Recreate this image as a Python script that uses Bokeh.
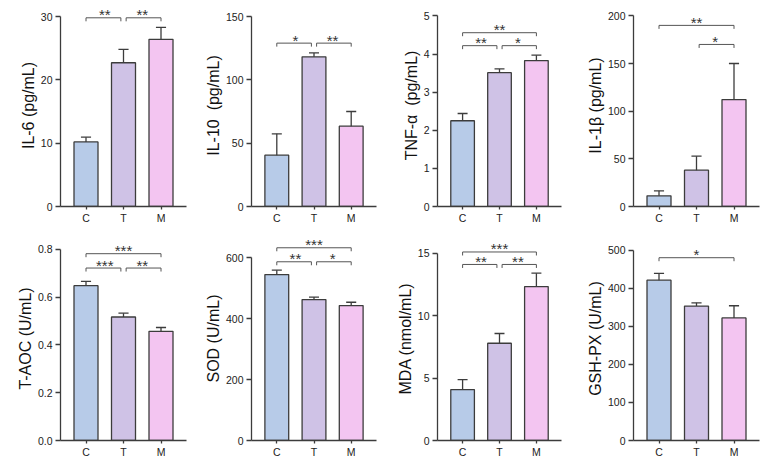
from bokeh.plotting import figure
from bokeh.layouts import gridplot
from bokeh.models import Range1d, FixedTicker, PrintfTickFormatter
from bokeh.core.properties import value
from bokeh.embed import file_html
from bokeh.resources import INLINE

# ---- data -------------------------------------------------------------
groups = ["C", "T", "M"]

il6_mean = [10.2, 22.7, 26.4]
il6_err = [0.75, 2.1, 1.9]

il10_mean = [40.5, 118.2, 63.4]
il10_err = [16.9, 3.1, 11.6]

tnfa_mean = [2.25, 3.51, 3.83]
tnfa_err = [0.19, 0.10, 0.14]

il1b_mean = [11.2, 38.1, 112.2]
il1b_err = [5.2, 14.7, 37.8]

taoc_mean = [0.648, 0.517, 0.457]
taoc_err = [0.018, 0.016, 0.016]

sod_mean = [545, 463, 443]
sod_err = [14.5, 8, 11]

mda_mean = [4.08, 7.79, 12.33]
mda_err = [0.8, 0.78, 1.07]

gshpx_mean = [421, 353, 322]
gshpx_err = [17.7, 8.6, 31.8]

# significance comparisons: (group a, group b, marker)
il6_sig = [(0, 1, "**"), (1, 2, "**")]
il10_sig = [(0, 1, "*"), (1, 2, "**")]
tnfa_sig = [(0, 2, "**"), (0, 1, "**"), (1, 2, "*")]
il1b_sig = [(0, 2, "**"), (1, 2, "*")]
taoc_sig = [(0, 2, "***"), (0, 1, "***"), (1, 2, "**")]
sod_sig = [(0, 2, "***"), (0, 1, "**"), (1, 2, "*")]
mda_sig = [(0, 2, "***"), (0, 1, "**"), (1, 2, "**")]
gshpx_sig = [(0, 2, "*")]

# ---- styling ----------------------------------------------------------
FONT = "Liberation Sans"
BAR_COLORS = ["#b7cbe8", "#cfc2e6", "#f3c5f1"]
EDGE = "#3c3c3c"
AXIS = "#3c3c3c"
BRACKET = "#555555"

# per-panel axis setup: label, y ticks, y range end, bracket heights
panels = [
    dict(label="IL-6 (pg/mL)", mean=il6_mean, err=il6_err, sig=il6_sig,
         ticks=[0, 10, 20, 30], yend=31.9, levels=[29.8, 29.8], fmt=None),
    dict(label="IL-10\u00a0 (pg/mL)", mean=il10_mean, err=il10_err, sig=il10_sig,
         ticks=[0, 50, 100, 150], yend=159.5, levels=[129, 129], fmt=None),
    dict(label="TNF-\u03b1\u00a0 (pg/mL)", mean=tnfa_mean, err=tnfa_err, sig=tnfa_sig,
         ticks=[0, 1, 2, 3, 4, 5], yend=5.30, levels=[4.56, 4.22, 4.22], fmt=None),
    dict(label="IL-1\u03b2 (pg/mL)", mean=il1b_mean, err=il1b_err, sig=il1b_sig,
         ticks=[0, 50, 100, 150, 200], yend=211.9, levels=[190, 170], fmt=None),
    dict(label="T-AOC (U/mL)", mean=taoc_mean, err=taoc_err, sig=taoc_sig,
         ticks=[0.0, 0.2, 0.4, 0.6, 0.8], yend=0.854, levels=[0.782, 0.722, 0.722], fmt="%.1f"),
    dict(label="SOD (U/mL)", mean=sod_mean, err=sod_err, sig=sod_sig,
         ticks=[0, 200, 400, 600], yend=670, levels=[633, 587, 587], fmt=None),
    dict(label="MDA (nmol/mL)", mean=mda_mean, err=mda_err, sig=mda_sig,
         ticks=[0, 5, 10, 15], yend=16.34, levels=[15.1, 14.1, 14.1], fmt=None),
    dict(label="GSH-PX (U/mL)", mean=gshpx_mean, err=gshpx_err, sig=gshpx_sig,
         ticks=[0, 100, 200, 300, 400, 500], yend=535.7, levels=[480], fmt=None),
]

widths = [191, 191, 191, 192]
lefts = [[60, 59, 55, 60], [60, 60, 53, 60]]
FRAME_W = 126
BAR_W = 0.64
CAP_HALF = 0.135


def make_panel(cfg, width, left, row):
    top_b, bot_b = 4, (26 if row == 0 else 24)
    height = 232
    frame_h = height - top_b - bot_b
    xs = list(range(len(groups)))
    p = figure(width=width, height=height, output_backend="svg",
               toolbar_location=None, x_range=Range1d(-0.68, 2.68),
               y_range=Range1d(0, cfg["yend"]),
               min_border_left=left, min_border_right=width - left - FRAME_W,
               min_border_top=top_b, min_border_bottom=bot_b)
    p.outline_line_color = None
    p.grid.visible = False
    p.background_fill_color = "white"
    p.border_fill_color = "white"

    # bars
    p.vbar(x=xs, top=cfg["mean"], bottom=0, width=BAR_W, fill_color=BAR_COLORS,
           line_color=EDGE, line_width=1.3)
    # upper error bars
    tops = [m + e for m, e in zip(cfg["mean"], cfg["err"])]
    p.segment(x0=xs, y0=cfg["mean"], x1=xs, y1=tops, line_color=EDGE, line_width=1.3)
    p.segment(x0=[x - CAP_HALF for x in xs], y0=tops, x1=[x + CAP_HALF for x in xs],
              y1=tops, line_color=EDGE, line_width=1.3)

    # significance brackets
    drop = 3.5 * cfg["yend"] / frame_h
    for (a, b, mark), lvl in zip(cfg["sig"], cfg["levels"]):
        xa = a + (0.07 if a == 1 else 0.0)
        xb = b - (0.07 if b == 1 else 0.0)
        p.line(x=[xa, xa, xb, xb], y=[lvl - drop, lvl, lvl, lvl - drop],
               line_color=BRACKET, line_width=1)
        p.text(x=[(a + b) / 2], y=[lvl], text=[mark], text_align="center",
               text_baseline="alphabetic", text_font=value(FONT),
               text_font_size="15px", text_color="#333333", y_offset=-3)

    # y axis
    ya = p.yaxis[0]
    ya.bounds = (0, cfg["ticks"][-1])
    ya.ticker = FixedTicker(ticks=cfg["ticks"])
    if cfg["fmt"]:
        ya.formatter = PrintfTickFormatter(format=cfg["fmt"])
    ya.axis_label = cfg["label"]
    ya.axis_label_text_font = FONT
    ya.axis_label_text_font_size = "16px"
    ya.axis_label_text_font_style = "normal"
    ya.axis_label_text_color = "#111111"
    ya.axis_label_standoff = 1
    ya.major_label_text_font = FONT
    ya.major_label_text_font_size = "10.5px"
    ya.major_label_text_color = "#222222"
    ya.major_label_standoff = 3
    ya.major_tick_out = 5
    ya.major_tick_in = 0
    ya.minor_tick_out = 0
    ya.minor_tick_in = 0
    ya.axis_line_color = AXIS
    ya.axis_line_width = 1.3
    ya.major_tick_line_color = AXIS
    ya.major_tick_line_width = 1.3

    # x axis
    xa_ = p.xaxis[0]
    xa_.ticker = FixedTicker(ticks=xs)
    xa_.major_label_overrides = {i: g for i, g in enumerate(groups)}
    xa_.major_label_text_font = FONT
    xa_.major_label_text_font_size = "10.5px"
    xa_.major_label_text_color = "#222222"
    xa_.major_label_standoff = 2
    xa_.major_tick_out = 3
    xa_.major_tick_in = 0
    xa_.minor_tick_out = 0
    xa_.minor_tick_in = 0
    xa_.axis_line_color = AXIS
    xa_.axis_line_width = 1.3
    xa_.major_tick_line_color = AXIS
    xa_.major_tick_line_width = 1.3
    return p


figs = []
for r in range(2):
    row_figs = []
    for c in range(4):
        cfg = panels[r * 4 + c]
        row_figs.append(make_panel(cfg, widths[c], lefts[r][c], r))
    figs.append(row_figs)

grid = gridplot(figs, toolbar_location=None)

with open("out.html", "w") as f:
    f.write(file_html(grid, INLINE))
